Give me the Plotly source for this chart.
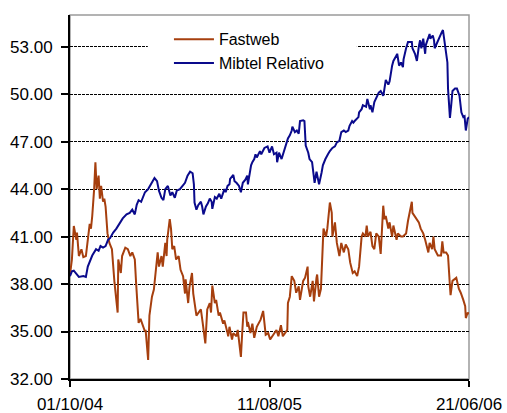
import plotly.graph_objects as go

# ---- data ----
fastweb_dates = [
    "2004-10-01", "2004-10-04", "2004-10-07", "2004-10-11", "2004-10-12", "2004-10-15", "2004-10-19",
    "2004-10-22", "2004-10-26", "2004-10-28", "2004-11-01", "2004-11-03", "2004-11-05", "2004-11-08",
    "2004-11-10", "2004-11-12", "2004-11-15", "2004-11-17", "2004-11-19", "2004-11-22", "2004-11-24",
    "2004-11-26", "2004-11-29", "2004-12-02", "2004-12-06", "2004-12-10", "2004-12-15", "2004-12-16",
    "2004-12-20", "2004-12-22", "2004-12-27", "2004-12-31", "2005-01-04", "2005-01-07", "2005-01-11",
    "2005-01-13", "2005-01-17", "2005-01-20", "2005-01-24", "2005-01-27", "2005-01-28", "2005-02-01",
    "2005-02-03", "2005-02-07", "2005-02-10", "2005-02-14", "2005-02-16", "2005-02-18", "2005-02-22",
    "2005-02-24", "2005-02-28", "2005-03-02", "2005-03-03", "2005-03-07", "2005-03-09", "2005-03-11",
    "2005-03-14", "2005-03-17", "2005-03-21", "2005-03-24", "2005-03-28", "2005-03-31", "2005-04-01",
    "2005-04-05", "2005-04-07", "2005-04-11", "2005-04-13", "2005-04-18", "2005-04-21", "2005-04-25",
    "2005-04-28", "2005-05-02", "2005-05-05", "2005-05-09", "2005-05-11", "2005-05-13", "2005-05-17",
    "2005-05-19", "2005-05-23", "2005-05-25", "2005-05-30", "2005-06-01", "2005-06-06", "2005-06-07",
    "2005-06-09", "2005-06-13", "2005-06-15", "2005-06-20", "2005-06-22", "2005-06-27", "2005-06-29",
    "2005-07-01", "2005-07-05", "2005-07-07", "2005-07-08", "2005-07-12", "2005-07-15", "2005-07-18",
    "2005-07-22", "2005-07-25", "2005-07-28", "2005-08-01", "2005-08-03", "2005-08-05", "2005-08-09",
    "2005-08-12", "2005-08-17", "2005-08-22", "2005-08-25", "2005-08-29", "2005-09-01", "2005-09-05",
    "2005-09-08", "2005-09-09", "2005-09-12", "2005-09-15", "2005-09-19", "2005-09-22", "2005-09-26",
    "2005-09-28", "2005-10-03", "2005-10-06", "2005-10-10", "2005-10-11", "2005-10-14", "2005-10-18",
    "2005-10-20", "2005-10-24", "2005-10-25", "2005-10-28", "2005-10-31", "2005-11-03", "2005-11-04",
    "2005-11-08", "2005-11-10", "2005-11-14", "2005-11-17", "2005-11-18", "2005-11-22", "2005-11-25",
    "2005-11-29", "2005-12-02", "2005-12-06", "2005-12-09", "2005-12-13", "2005-12-16", "2005-12-20",
    "2005-12-23", "2005-12-27", "2005-12-30", "2006-01-03", "2006-01-05", "2006-01-09", "2006-01-11",
    "2006-01-13", "2006-01-17", "2006-01-20", "2006-01-23", "2006-01-26", "2006-01-30", "2006-02-02",
    "2006-02-06", "2006-02-08", "2006-02-10", "2006-02-14", "2006-02-16", "2006-02-20", "2006-02-22",
    "2006-02-27", "2006-03-01", "2006-03-06", "2006-03-09", "2006-03-14", "2006-03-17", "2006-03-23",
    "2006-03-24", "2006-03-29", "2006-04-03", "2006-04-06", "2006-04-10", "2006-04-13", "2006-04-18",
    "2006-04-20", "2006-04-24", "2006-04-26", "2006-04-28", "2006-05-03", "2006-05-08", "2006-05-10",
    "2006-05-12", "2006-05-16", "2006-05-19", "2006-05-22", "2006-05-23", "2006-05-26", "2006-06-01",
    "2006-06-05", "2006-06-08", "2006-06-12", "2006-06-15", "2006-06-16", "2006-06-19", "2006-06-21",
]
fastweb_values = [
    38.6, 39.55, 41.67, 40.8, 41.25, 39.77, 40.2,
    39.7, 39.77, 40.6, 41.8, 41.5, 42.3, 44.0,
    45.7, 44.0, 44.85, 43.4, 44.2, 43.2, 43.4,
    42.9, 41.2, 40.6, 40.2, 38.1, 36.2, 39.55,
    38.7, 39.77, 40.3, 40.2, 39.77, 40.0, 39.55,
    38.1, 35.55, 35.8, 35.3, 35.0, 35.1, 33.2,
    36.0, 37.2, 37.65, 39.55, 40.0, 39.1, 39.77,
    39.1, 40.6, 39.77, 40.8, 42.1, 41.5, 40.2,
    40.4, 39.55, 39.77, 38.9, 38.5, 37.4, 38.3,
    36.8, 37.8, 38.7, 37.4, 36.0, 36.2, 36.4,
    35.5, 34.25, 36.4, 36.8, 36.2, 37.9, 36.8,
    37.0, 36.0, 36.2, 35.5, 35.7, 34.9, 34.7,
    35.3, 34.5, 34.9, 34.7, 35.1, 33.4, 34.9,
    36.2, 36.2, 35.3, 35.6, 34.9, 35.5, 34.6,
    35.3, 35.5, 35.75, 36.3, 35.4, 34.8, 34.9,
    34.5, 34.8, 35.1, 34.7, 35.4, 34.7, 34.9,
    35.1, 36.8, 37.2, 38.5, 38.2, 37.45, 37.85,
    37.0, 38.2, 38.4, 39.1, 37.85, 37.2, 38.2,
    36.9, 38.4, 38.6, 37.2, 37.7, 40.6, 41.5,
    41.0, 41.5, 43.15, 42.5, 41.0, 41.9, 40.6,
    39.77, 40.6, 40.0, 40.5, 40.2, 39.35, 38.7,
    38.8, 38.5, 39.1, 41.0, 41.2, 41.0, 41.7,
    41.0, 41.3, 40.4, 40.2, 41.2, 41.0, 39.9,
    42.95, 42.1, 42.3, 41.5, 41.9, 41.0, 41.7,
    40.8, 41.2, 41.0, 41.0, 41.2, 42.0, 43.2,
    42.5, 42.2, 41.9, 41.5, 41.2, 40.8, 40.0,
    40.6, 40.2, 41.0, 40.2, 39.8, 39.8, 40.7,
    40.0, 40.0, 39.8, 37.85, 37.3, 38.2, 38.4,
    37.7, 37.45, 37.0, 36.6, 35.85, 36.2, 36.1,
]

mibtel_dates = [
    "2004-10-01", "2004-10-04", "2004-10-07", "2004-10-12", "2004-10-15", "2004-10-22", "2004-10-26",
    "2004-10-29", "2004-11-03", "2004-11-05", "2004-11-11", "2004-11-15", "2004-11-18", "2004-11-22",
    "2004-11-26", "2004-11-30", "2004-12-03", "2004-12-08", "2004-12-13", "2004-12-16", "2004-12-20",
    "2004-12-23", "2004-12-29", "2005-01-03", "2005-01-07", "2005-01-11", "2005-01-14", "2005-01-17",
    "2005-01-21", "2005-01-27", "2005-02-01", "2005-02-07", "2005-02-11", "2005-02-15", "2005-02-18",
    "2005-02-22", "2005-02-25", "2005-02-28", "2005-03-04", "2005-03-08", "2005-03-11", "2005-03-15",
    "2005-03-18", "2005-03-23", "2005-03-28", "2005-03-31", "2005-04-04", "2005-04-08", "2005-04-12",
    "2005-04-14", "2005-04-15", "2005-04-18", "2005-04-21", "2005-04-25", "2005-04-27", "2005-04-29",
    "2005-05-03", "2005-05-06", "2005-05-09", "2005-05-12", "2005-05-13", "2005-05-17", "2005-05-20",
    "2005-05-24", "2005-05-27", "2005-05-30", "2005-06-01", "2005-06-03", "2005-06-06", "2005-06-09",
    "2005-06-10", "2005-06-15", "2005-06-17", "2005-06-20", "2005-06-24", "2005-06-27", "2005-06-30",
    "2005-07-04", "2005-07-07", "2005-07-08", "2005-07-11", "2005-07-13", "2005-07-15", "2005-07-18",
    "2005-07-20", "2005-07-22", "2005-07-27", "2005-07-29", "2005-08-03", "2005-08-08", "2005-08-11",
    "2005-08-15", "2005-08-18", "2005-08-22", "2005-08-23", "2005-08-26", "2005-08-30", "2005-09-02",
    "2005-09-06", "2005-09-09", "2005-09-12", "2005-09-15", "2005-09-16", "2005-09-20", "2005-09-23",
    "2005-09-26", "2005-09-28", "2005-10-03", "2005-10-05", "2005-10-06", "2005-10-07", "2005-10-11",
    "2005-10-13", "2005-10-17", "2005-10-19", "2005-10-21", "2005-10-24", "2005-10-27", "2005-10-28",
    "2005-11-01", "2005-11-03", "2005-11-07", "2005-11-09", "2005-11-11", "2005-11-14", "2005-11-18",
    "2005-11-22", "2005-11-25", "2005-11-29", "2005-12-02", "2005-12-06", "2005-12-09", "2005-12-13",
    "2005-12-15", "2005-12-19", "2005-12-21", "2005-12-23", "2005-12-29", "2005-12-30", "2006-01-03",
    "2006-01-05", "2006-01-10", "2006-01-12", "2006-01-16", "2006-01-17", "2006-01-20", "2006-01-23",
    "2006-01-27", "2006-01-30", "2006-02-02", "2006-02-06", "2006-02-07", "2006-02-10", "2006-02-14",
    "2006-02-16", "2006-02-20", "2006-02-22", "2006-02-27", "2006-02-28", "2006-03-03", "2006-03-06",
    "2006-03-09", "2006-03-10", "2006-03-14", "2006-03-17", "2006-03-23", "2006-03-24", "2006-03-28",
    "2006-03-31", "2006-04-03", "2006-04-05", "2006-04-07", "2006-04-10", "2006-04-13", "2006-04-14",
    "2006-04-20", "2006-04-21", "2006-04-25", "2006-04-27", "2006-04-28", "2006-05-02", "2006-05-05",
    "2006-05-09", "2006-05-11", "2006-05-12", "2006-05-16", "2006-05-18", "2006-05-19", "2006-05-22",
    "2006-05-24", "2006-05-26", "2006-05-30", "2006-06-02", "2006-06-06", "2006-06-09", "2006-06-12",
    "2006-06-14", "2006-06-16", "2006-06-19", "2006-06-21",
]
mibtel_values = [
    38.5, 38.8, 38.85, 38.55, 38.45, 38.5, 38.45,
    39.1, 39.55, 39.8, 40.2, 40.1, 40.4, 40.3,
    40.4, 40.8, 40.9, 41.25, 41.5, 41.7, 41.9,
    42.15, 42.4, 42.5, 42.7, 42.4, 43.0, 43.3,
    43.2, 43.8, 44.0, 44.4, 44.7, 44.5, 43.9,
    43.45, 43.3, 44.0, 44.2, 43.6, 43.8, 43.45,
    43.9, 44.0, 44.3, 44.4, 44.85, 45.1, 45.0,
    44.3, 43.15, 42.7, 43.0, 43.2, 42.9, 42.4,
    42.9, 43.1, 43.4, 43.2, 42.75, 43.5, 43.4,
    43.7, 43.4, 43.8, 44.0, 43.8, 44.2, 44.3,
    44.65, 44.9, 44.5, 44.4, 44.2, 43.8, 44.4,
    44.6, 44.85, 44.3, 45.2, 45.5, 45.7, 45.9,
    46.2, 46.0, 46.4, 46.2, 46.6, 46.7, 46.3,
    46.7, 46.2, 46.3, 45.7, 46.3, 45.9, 46.3,
    46.7, 47.2, 47.4, 47.7, 47.95, 47.6, 47.7,
    47.5, 48.3, 48.35, 48.3, 47.4, 46.75, 46.3,
    45.9, 45.7, 45.05, 44.4, 45.1, 44.4, 44.3,
    45.05, 45.5, 45.9, 46.1, 46.2, 46.4, 46.6,
    46.7, 46.95, 47.05, 47.6, 47.7, 47.6, 47.7,
    48.0, 48.3, 48.2, 48.3, 48.55, 48.85, 49.05,
    49.3, 49.2, 49.7, 49.05, 49.3, 48.85, 49.5,
    49.9, 50.1, 50.2, 49.9, 50.1, 50.9, 50.6,
    50.8, 51.8, 52.1, 52.45, 52.55, 51.8, 52.0,
    51.7, 52.2, 52.9, 53.3, 53.3, 52.9, 52.55,
    52.1, 53.0, 53.4, 52.9, 53.5, 52.55, 53.1,
    53.8, 53.5, 53.7, 53.4, 52.9, 53.3, 53.5,
    53.9, 54.05, 53.7, 52.45, 52.0, 50.35, 48.5,
    49.3, 50.2, 50.35, 50.35, 49.9, 48.85, 48.55,
    48.6, 47.7, 48.45, 48.55,
]

y_ticks = [32, 35, 38, 41, 44, 47, 50, 53]
x_ticks = ["2004-10-01", "2005-08-11", "2006-06-21"]
x_tick_labels = ["01/10/04", "11/08/05", "21/06/06"]

FONT = "Liberation Sans, Arial, sans-serif"

fig = go.Figure()
fig.add_trace(go.Scatter(
    x=fastweb_dates, y=fastweb_values, mode="lines", name="Fastweb",
    line=dict(color="#A63F0E", width=2),
))
fig.add_trace(go.Scatter(
    x=mibtel_dates, y=mibtel_values, mode="lines", name="Mibtel Relativo",
    line=dict(color="#0A0A8C", width=2),
))

fig.update_layout(
    width=507, height=413,
    margin=dict(l=70, r=38, t=15, b=34, autoexpand=False),
    paper_bgcolor="white", plot_bgcolor="white",
    font=dict(family=FONT, size=17, color="black"),
    showlegend=True,
    legend=dict(
        x=0.248, y=0.98, xanchor="left", yanchor="top",
        bgcolor="rgba(0,0,0,0)", borderwidth=0,
        font=dict(family=FONT, size=16, color="black"),
        itemwidth=40, tracegroupgap=0,
    ),
    shapes=[
        dict(type="rect", xref="paper", yref="paper", x0=0, x1=1, y0=0, y1=1,
             line=dict(color="#9a9a9a", width=1.5), fillcolor="rgba(0,0,0,0)", layer="below"),
        dict(type="rect", xref="paper", yref="paper", x0=0.195, x1=0.719, y0=0.855, y1=0.965,
             line=dict(width=0), fillcolor="white", layer="above"),
    ],
)

fig.update_xaxes(
    type="date",
    range=["2004-10-01", "2006-06-21"],
    tickmode="array", tickvals=x_ticks, ticktext=x_tick_labels,
    ticks="outside", ticklen=6, tickwidth=1.5, tickcolor="black",
    showline=True, linecolor="black", linewidth=2,
    showgrid=False, zeroline=False, automargin=False,
    tickfont=dict(family=FONT, size=17, color="black"),
    ticklabelstandoff=3,
)
fig.update_yaxes(
    range=[32, 55],
    tickmode="array", tickvals=y_ticks, tickformat=".2f",
    ticks="outside", ticklen=7, tickwidth=1.5, tickcolor="black",
    showline=True, linecolor="black", linewidth=2,
    showgrid=True, gridcolor="black", gridwidth=1, griddash="3px,1px",
    zeroline=False, automargin=False,
    tickfont=dict(family=FONT, size=17, color="black"),
    ticklabelstandoff=5,
)

fig.write_html(
    "out.html",
    config={"displayModeBar": False},
    post_script="document.body.style.margin='0';document.body.style.overflow='hidden';",
)
